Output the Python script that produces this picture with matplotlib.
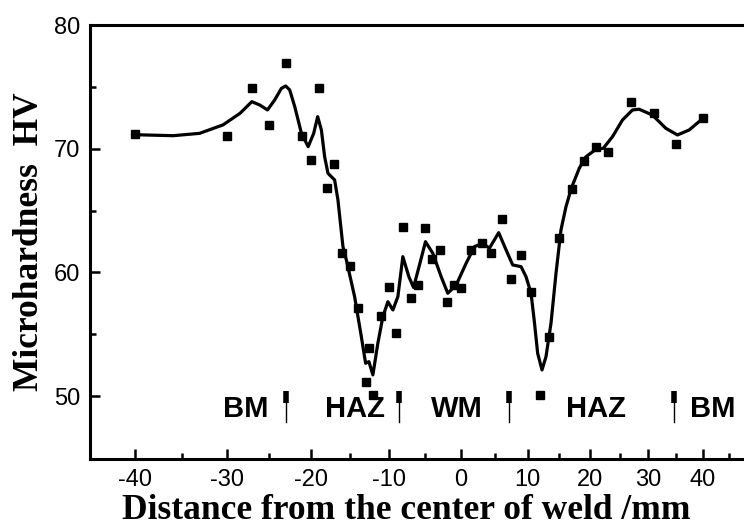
import numpy as np
import matplotlib
matplotlib.use("Agg")
import matplotlib.pyplot as plt

plt.rcParams['axes.unicode_minus'] = False

# measured microhardness points
dist = [-40, -30, -27, -25, -23, -21, -20, -19, -18, -17, -16, -15, -14, -13, -12.5, -12,
        -11, -10, -9, -8, -7, -6, -5, -4, -3, -2, -1, 0, 1.4, 3, 4.4, 6, 7.5, 9, 10.5,
        12, 13.4, 15, 17, 19, 21, 23, 27, 31, 35, 40]
hv = [71.2, 71.0, 74.9, 71.9, 76.9, 71.0, 69.1, 74.9, 66.8, 68.8, 61.6, 60.5, 57.1, 51.1, 53.9, 50.1,
      56.5, 58.8, 55.1, 63.7, 57.9, 59.0, 63.6, 61.1, 61.8, 57.6, 59.0, 58.7, 61.8, 62.4, 61.6, 64.3, 59.5, 61.4, 58.4,
      50.1, 54.8, 62.8, 66.7, 69.0, 70.1, 69.7, 73.8, 72.9, 70.4, 72.5]

# fitted curve
curve_x = [-40, -35.9, -33, -30.4, -28.4, -27.0, -26.06, -25.15, -24.29, -23.49, -22.98, -22.5,
           -21.9, -21.1, -20.3, -19.62, -19.12, -18.65, -18.24, -17.82, -16.98, -16.56, -15.93,
           -15.5, -14.44, -13.56, -13.0, -12.57, -12.05, -11.4, -10.74, -10.09, -9.41, -8.73,
           -8.05, -7.23, -6.59, -5.78, -4.96, -3.94, -2.78, -1.86, -0.69, 0.74, 1.96, 3.18, 4.16,
           5.55, 6.69, 7.7, 8.99, 9.75, 10.54, 11.06, 11.58, 12.27, 12.9, 13.69, 14.48, 15.27,
           16.08, 16.94, 18.23, 19.31, 20.96, 22.19, 23.75, 25.45, 27.2, 28.37, 30.71, 33.1,
           35.19, 37.38, 40]
curve_y = [71.13, 71.05, 71.24, 71.92, 72.86, 73.8, 73.53, 73.13, 73.94, 74.88, 75.07, 74.75,
           73.4, 71.24, 70.16, 71.24, 72.59, 71.51, 69.35, 68.01, 67.47, 65.85, 62.08,
           61.0, 58.04, 54.8, 52.65, 52.78, 51.71, 54.27, 56.42, 57.63, 56.96, 58.04,
           61.27, 59.65, 58.78, 60.6, 62.48, 61.54, 59.65, 58.31, 58.98, 60.74, 62.08, 62.35, 61.95,
           63.21, 61.81, 60.6, 60.46, 59.65, 58.31, 56.01, 53.46, 52.11, 53.19, 55.89, 59.93, 63.43,
           65.31, 66.8, 68.42, 69.35, 69.95, 70.03, 70.97, 72.32, 73.13, 73.19, 72.72, 71.65,
           71.11, 71.51, 72.46]

zones = ["BM", "HAZ", "WM", "HAZ", "BM"]
zone_x = [-27.7, -14.4, -0.6, 21.0, 41.8]
bound_x = [-23, -8.6, 7.2, 34.6]

# the x axis of the original is not linear (stretched on the left),
# so map tick values to where they sit in the picture
cal_val = [-100, -40, -35, -30, -25, -20, -15, -10, -5, 0, 5, 10, 15, 20, 25, 30, 35, 40, 45, 100]
cal_px = [-425.4, 135, 181.7, 226.7, 269, 311, 350.7, 389, 425.7, 461.7, 495.7, 528.3, 560,
          591, 620.7, 649.3, 677.3, 704, 730, 1016]


def fwd(x):
    return np.interp(x, cal_val, cal_px)


def inv(p):
    return np.interp(p, cal_px, cal_val)


fig = plt.figure(figsize=(7.44, 5.26), dpi=100)
ax = fig.add_axes([90 / 744, 67 / 526, 665 / 744, 434 / 526])
ax.set_xscale('function', functions=(fwd, inv))

ax.plot(curve_x, curve_y, color='black', lw=2.3, solid_joinstyle='round')
ax.plot(dist, hv, 's', color='black', markersize=6)

for bx in bound_x:
    ax.plot([bx, bx], [47.9, 49.5], color='black', lw=1)
    ax.plot([bx, bx], [49.4, 50.4], color='black', lw=4, solid_capstyle='butt')

for zx, z in zip(zone_x, zones):
    ax.text(zx, 48.95, z, ha='center', va='center', fontsize=21, fontweight='bold',
            family='Liberation Sans')

ax.set_xlim(-44.82, 50)
ax.set_ylim(44.91, 80)
ax.set_xticks(range(-40, 41, 10))
ax.set_xticks([-35, -25, -15, -5, 5, 15, 25, 35, 45], minor=True)
ax.set_yticks([50, 60, 70, 80])
ax.set_yticks([55, 65, 75], minor=True)

for lab in ax.get_xticklabels() + ax.get_yticklabels():
    lab.set_family('Liberation Sans')
    lab.set_fontsize(17)
ax.tick_params(which='major', direction='in', length=7, width=1.8, pad=7)
ax.tick_params(which='minor', direction='in', length=4, width=1.8)
for s in ax.spines.values():
    s.set_linewidth(2.2)

ax.set_xlabel('Distance from the center of weld /mm', family='Liberation Serif',
              fontweight='bold', fontsize=25.5)
ax.xaxis.set_label_coords(0.475, -0.08)
ax.set_ylabel('Microhardness  HV', family='Liberation Serif', fontweight='bold', fontsize=25.5)
ax.yaxis.set_label_coords(-0.066, 0.5)

fig.savefig('out.png', dpi=100)
